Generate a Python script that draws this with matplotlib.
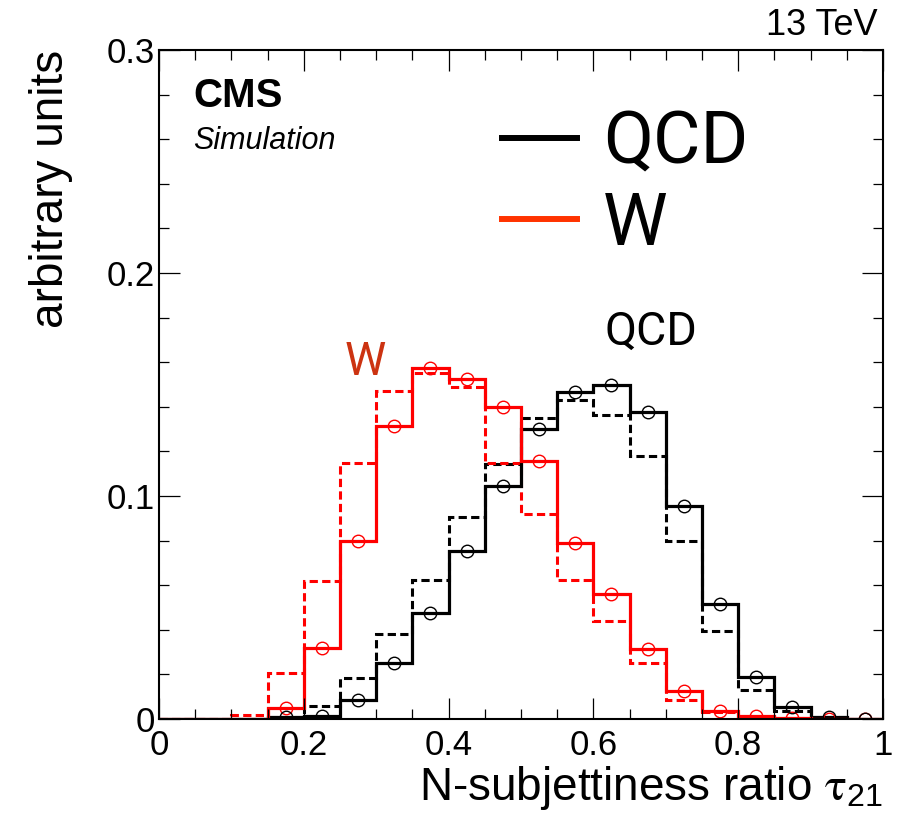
import matplotlib
matplotlib.use("Agg")
import matplotlib.pyplot as plt
import numpy as np
from matplotlib.ticker import MultipleLocator

# -------------------------------
# data
# -------------------------------
edges = np.linspace(0, 1, 21)

w_solid = [0, 0, 0, 0.005, 0.0318, 0.0799, 0.1316, 0.1576, 0.1525, 0.1397,
           0.1159, 0.0787, 0.0562, 0.0312, 0.0127, 0.0037, 0.0012, 0.0005, 0.0002, 0]
w_dashed = [0, 0, 0.002, 0.0207, 0.0618, 0.115, 0.147, 0.155, 0.149, 0.1147,
            0.0921, 0.0622, 0.0438, 0.025, 0.0087, 0.003, 0.0007, 0.0003, 0.0001, 0]
qcd_solid = [0, 0, 0, 0.0007, 0.0015, 0.0087, 0.0252, 0.0475, 0.0753, 0.1045,
             0.130, 0.1466, 0.1496, 0.1375, 0.0957, 0.0517, 0.019, 0.0055, 0.001, 0.0002]
qcd_dashed = [0, 0, 0, 0.001, 0.006, 0.0183, 0.0382, 0.0622, 0.0907, 0.1144,
              0.135, 0.1432, 0.1361, 0.1181, 0.0796, 0.0394, 0.0132, 0.0037, 0.0008, 0.0001]

first_marker = 3   # circles drawn from the 0.15-0.2 bin on

RED = "#ff0000"
plt.rcParams["font.family"] = ["Liberation Sans", "DejaVu Sans"]
plt.rcParams["mathtext.fontset"] = "stix"

fig = plt.figure(figsize=(9.06, 8.17), dpi=100)
ax = fig.add_axes([0.1755, 0.12, 0.7991, 0.8188])

centers = 0.5 * (edges[:-1] + edges[1:])
dash = (0, (2.7, 1.4))

ax.stairs(qcd_dashed, edges, color="black", lw=2.2, ls=dash)
ax.stairs(w_dashed, edges, color=RED, lw=2.2, ls=dash)
ax.stairs(qcd_solid, edges, color="black", lw=2.3)
ax.stairs(w_solid, edges, color=RED, lw=2.3)
ax.plot(centers[first_marker:], w_solid[first_marker:], "o", mfc="none", mec=RED,
        ms=9, mew=1.0)
ax.plot(centers[first_marker:], qcd_solid[first_marker:], "o", mfc="none", mec="black",
        ms=9, mew=1.0)

ax.set_xlim(0, 1)
ax.set_ylim(0, 0.3)
ax.xaxis.set_minor_locator(MultipleLocator(0.05))
ax.yaxis.set_minor_locator(MultipleLocator(0.02))
ax.set_xticks([0, 0.2, 0.4, 0.6, 0.8, 1.0], ["0", "0.2", "0.4", "0.6", "0.8", "1"])
ax.set_yticks([0, 0.1, 0.2, 0.3], ["0", "0.1", "0.2", "0.3"])
ax.tick_params(which="both", direction="in", top=True, right=True, width=0.9)
ax.tick_params(which="major", length=15, labelsize=25)
ax.tick_params(which="minor", length=7.5)
ax.tick_params(axis="x", pad=7)
ax.tick_params(axis="y", pad=3)
for s in ax.spines.values():
    s.set_linewidth(1.5)

ax.set_xlabel(r"N-subjettiness ratio $\mathrm{\tau}_{\mathregular{21}}$", fontsize=33,
              loc="right", labelpad=2)
ax.set_ylabel("arbitrary units", fontsize=33, loc="top", labelpad=24)

ax.legend(handles=[plt.Line2D([], [], color="black", lw=4.3),
                   plt.Line2D([], [], color="#ff3300", lw=4.3)],
          labels=["QCD", "W"], loc="center left", bbox_to_anchor=(0.4738, 0.799),
          frameon=False, borderpad=0, borderaxespad=0, handlelength=1.03,
          handletextpad=0.35, labelspacing=0.17, prop={"family": "Roboto", "size": 52.5})

ax.text(0.047, 0.915, "CMS", transform=ax.transAxes, fontsize=29, weight="bold",
        va="baseline")
ax.text(0.047, 0.852, "Simulation", transform=ax.transAxes, fontsize=22, style="italic",
        va="baseline")
ax.text(0.993, 1.023, "13 TeV", transform=ax.transAxes, fontsize=26, ha="right",
        va="baseline")
ax.text(0.616, 0.1677, "QCD", fontsize=33.5, family="Roboto", va="baseline")
ax.text(0.257, 0.1543, "W", fontsize=33.5, family="Roboto", color="#cc3311",
        va="baseline")

fig.savefig("out.png", dpi=100)
